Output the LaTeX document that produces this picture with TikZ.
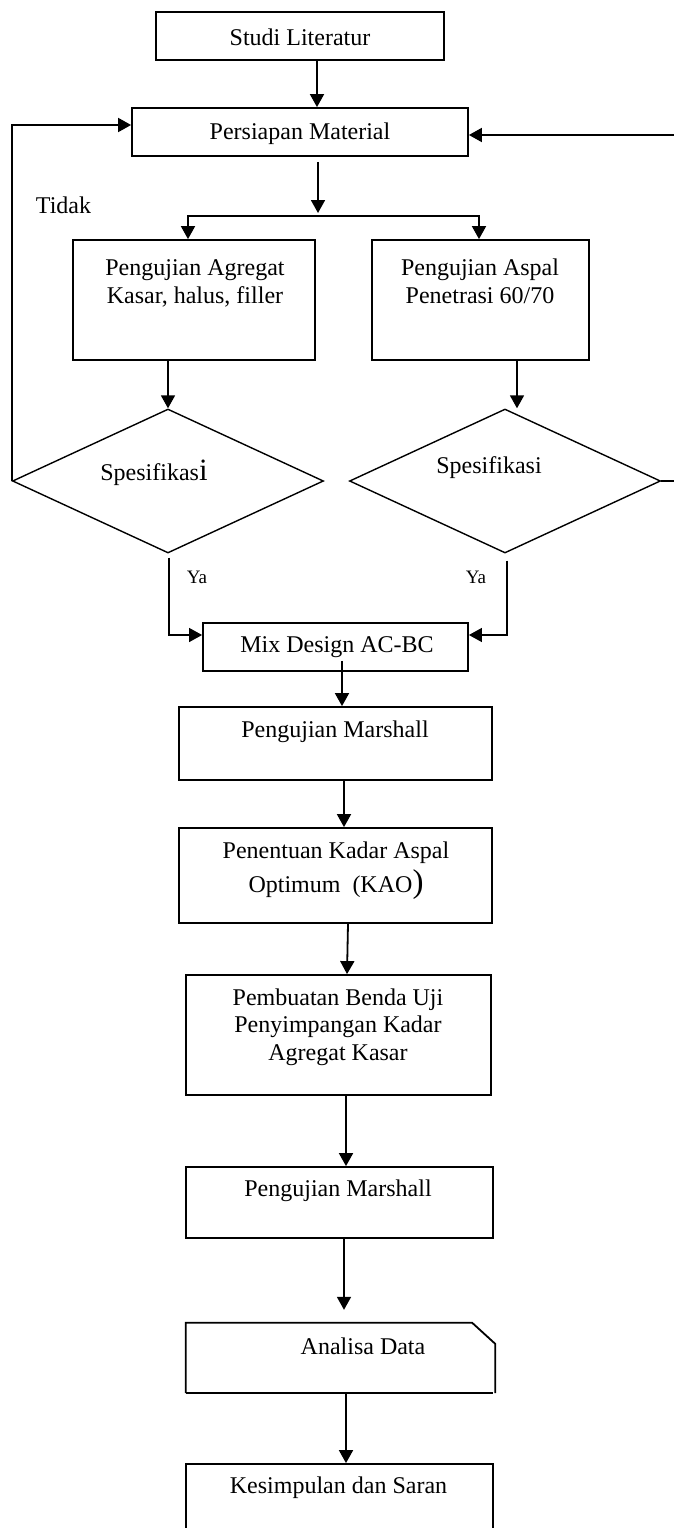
\documentclass[tikz,border=0pt]{standalone}
\usepackage{fontspec}
\setmainfont{Liberation Serif}
\usetikzlibrary{arrows.meta,shapes.geometric}
\begin{document}
\begin{tikzpicture}[x=1pt,y=-1pt,
  box/.style={draw, line width=1.8pt, inner sep=0pt},
  dia/.style={draw, diamond, line width=1.4pt, inner sep=0pt},
  txt/.style={font=\fontsize{24}{28}\selectfont, align=center, inner sep=0pt},
  yatxt/.style={font=\fontsize{19}{22}\selectfont, inner sep=0pt},
  arr/.style={line width=1.8pt, -{Triangle[length=13pt,width=14pt]}},
  yaarr/.style={line width=1.2pt, -{Triangle[length=13pt,width=14pt]}}]
\path[use as bounding box, fill=white] (0,0) rectangle (674,1528);

% boxes
\node[box, minimum width=288pt, minimum height=48pt] (studi) at (300,36) {};
\node[txt] (studi-t) at (300,37) {Studi Literatur};

\node[box, minimum width=336pt, minimum height=48pt] (pm) at (300,132) {};
\node[txt] (pm-t) at (300,134) {Persiapan Material};

\node[txt] (tidak) at (63.5,205) {Tidak};

\node[box, minimum width=242pt, minimum height=120pt] (agr) at (194,300) {};
\node[txt] (agr-t) at (195,283) {Pengujian Agregat\\Kasar, halus, filler};

\node[box, minimum width=217pt, minimum height=120pt] (asp) at (480.5,300) {};
\node[txt] (asp-t) at (480,281.5) {Pengujian Aspal\\Penetrasi 60/70};

\node[dia, minimum width=311pt, minimum height=144pt] (d1) at (168,481) {};
\node[txt] (d1-t) at (154,473) {Spesifikas{\fontsize{31}{31}\selectfont i}};

\node[dia, minimum width=311pt, minimum height=144pt] (d2) at (505,481) {};
\node[txt] (d2-t) at (489,468) {Spesifikasi};

\node[yatxt] (ya1) at (197,577) {Ya};
\node[yatxt] (ya2) at (476,577) {Ya};

\node[box, minimum width=265pt, minimum height=48pt] (mix) at (335.5,647) {};
\node[txt] (mix-t) at (337,647) {Mix Design AC-BC};

\node[box, minimum width=313pt, minimum height=73pt] (m1) at (335.5,743.5) {};
\node[txt] (m1-t) at (335,732) {Pengujian Marshall};

\node[box, minimum width=313pt, minimum height=95pt] (kao) at (335.5,875.5) {};
\node[txt, font=\fontsize{24}{34}\selectfont] (kao-t) at (336,871) {Penentuan Kadar Aspal\\Optimum~~(KAO{\fontsize{33}{33}\selectfont )}};

\node[box, minimum width=305pt, minimum height=120pt] (pbu) at (338.5,1035) {};
\node[txt, font=\fontsize{24}{27.5}\selectfont] (pbu-t) at (338,1027) {Pembuatan Benda Uji\\Penyimpangan Kadar\\Agregat Kasar};

\node[box, minimum width=307pt, minimum height=71pt] (m2) at (339.5,1202.5) {};
\node[txt] (m2-t) at (338,1191) {Pengujian Marshall};

\node[inner sep=0pt, minimum width=309pt, minimum height=70pt] (ana) at (340.5,1358) {};
\draw[line width=1.8pt] (ana.south west) -- (ana.north west) -- ([xshift=-23pt]ana.north east)
  -- ([yshift=-21pt]ana.north east) -- (ana.south east);
\draw[line width=1.8pt] (ana.south west) -- ([xshift=-2pt]ana.south east);
\node[txt] (ana-t) at (363,1346) {Analisa Data};

\node[box, minimum width=307pt, minimum height=96pt] (kes) at (339.5,1512) {};
\node[txt] (kes-t) at (338.5,1488) {Kesimpulan dan Saran};

% coordinates
\coordinate (split) at (318,216);
\coordinate (l1) at (12,125);
\coordinate (r1) at (677,481);
\coordinate (r2) at (677,135);

% connectors
\draw[arr] ([xshift=17pt]studi.south) -- ([xshift=17pt]pm.north);
\draw[arr] ([xshift=18pt,yshift=-5pt]pm.south) -- ([yshift=3pt]split);
\draw[arr] (split) -| ([xshift=-6pt]agr.north);
\draw[arr] (split) -| ([xshift=-1.5pt]asp.north);
\draw[arr] ([xshift=-26pt]agr.south) -- (d1.north);
\draw[arr] ([xshift=36.5pt]asp.south) -- ([xshift=36.5pt]asp.south |- d2.north);
\draw[arr] (d1.west) -- (d1.west |- l1) -- (pm.west |- l1);
\draw[arr] (d2.east) -- (r1) -- (r2) -- (pm.east |- r2);
\draw[yaarr] ([xshift=1pt,yshift=-4pt]d1.south) |- ([yshift=12pt]mix.west);
\draw[yaarr] ([xshift=2pt,yshift=-7pt]d2.south) |- ([yshift=12pt]mix.east);
\draw[arr] ([xshift=6.5pt,yshift=11pt]mix.south) -- ([xshift=6.5pt]m1.north);
\draw[arr] ([xshift=8.5pt]m1.south) -- ([xshift=8.5pt]kao.north);
\draw[arr] ([xshift=12.5pt]kao.south) -- ([xshift=8.5pt]pbu.north);
\draw[arr] ([xshift=7.5pt]pbu.south) -- ([xshift=6.5pt]m2.north);
\draw[arr] ([xshift=4.5pt]m2.south) -- ([xshift=3.5pt,yshift=13pt]ana.north);
\draw[arr] ([xshift=5.5pt]ana.south) -- ([xshift=6.5pt]kes.north);
\end{tikzpicture}
\end{document}
